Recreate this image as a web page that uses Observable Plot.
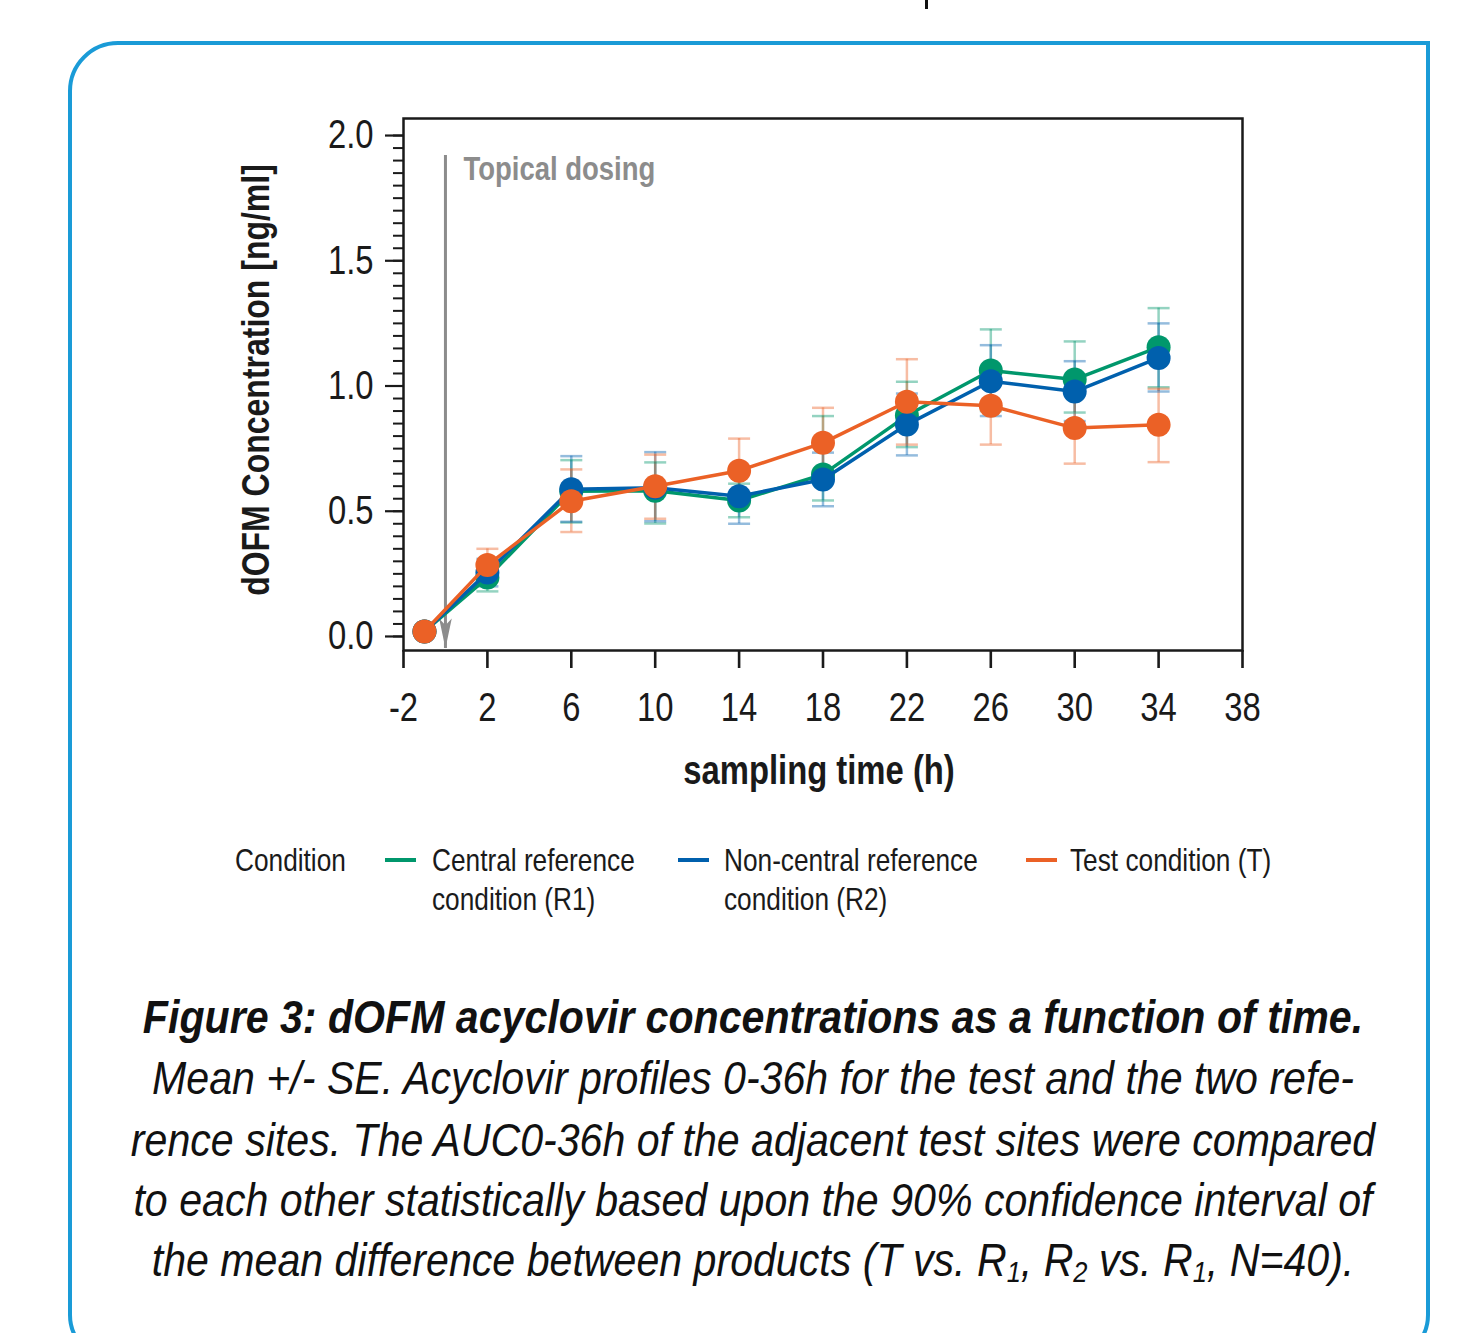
<!DOCTYPE html>
<html>
<head>
<meta charset="utf-8">
<script src="https://cdn.jsdelivr.net/npm/d3@7"></script>
<script src="https://cdn.jsdelivr.net/npm/@observablehq/plot@0.6"></script>
<style>
  html, body { margin: 0; padding: 0; background: #fff; }
  body { width: 1468px; height: 1333px; overflow: hidden; position: relative;
         font-family: "Liberation Sans", Arial, sans-serif; color: #1a1a1a; }
  #box { position: absolute; left: 68px; top: 41px; width: 1362px; height: 1320px;
         border: 4px solid #1a9bd7; border-radius: 50px 0 46px 46px; box-sizing: border-box; }
  #topmark { position: absolute; left: 925px; top: 0; width: 3px; height: 9px; background: #111; }
  #chart { position: absolute; left: 0; top: 0; }
  .ylab { position: absolute; left: 256px; top: 380px; transform: translate(-50%, -50%) rotate(-90deg) scaleX(0.82);
          font-weight: bold; font-size: 39px; white-space: nowrap; color: #1a1a1a; }
  .xlab { position: absolute; left: 819px; top: 770px; transform: translate(-50%, -50%) scaleX(0.82);
          font-weight: bold; font-size: 40px; white-space: nowrap; color: #1a1a1a; }
  .leg { position: absolute; font-size: 32px; line-height: 39px; color: #1a1a1a; white-space: nowrap;
         transform: scaleX(0.82); transform-origin: left center; }
  .sw { position: absolute; height: 4px; width: 31px; }
  .cap { position: absolute; left: -247px; width: 2000px; height: 61px; text-align: center;
         font-style: italic; font-size: 47px; line-height: 61px; color: #111; white-space: nowrap;
         transform: scaleX(0.875); transform-origin: center center; }
  .cap.b { font-weight: bold; }
  .cap sub { font-size: 0.62em; vertical-align: -0.22em; line-height: 0; }
</style>
</head>
<body>
<div id="box"></div>
<div id="topmark"></div>
<div id="chart"></div>
<div class="ylab">dOFM Concentration [ng/ml]</div>
<div class="xlab">sampling time (h)</div>
<div id="legend"></div>
<div class="cap b" style="top:986px">Figure 3: dOFM acyclovir concentrations as a function of time.</div>
<div class="cap" style="top:1047px">Mean +/- SE. Acyclovir profiles 0-36h for the test and the two refe-</div>
<div class="cap" style="top:1109px">rence sites. The AUC0-36h of the adjacent test sites were compared</div>
<div class="cap" style="top:1169px">to each other statistically based upon the 90% confidence interval of</div>
<div class="cap" style="top:1229px">the mean difference between products (T vs. R<sub>1</sub>, R<sub>2</sub> vs. R<sub>1</sub>, N=40).</div>
<script>
// ---------------- data ----------------
const times = [-1, 2, 6, 10, 14, 18, 22, 26, 30, 34];

const r1Mean = [0.02, 0.235, 0.580, 0.582, 0.543, 0.647, 0.882, 1.062, 1.026, 1.155];
const r1Lo   = [0.02, 0.180, 0.455, 0.451, 0.476, 0.543, 0.756, 0.900, 0.894, 0.995];
const r1Hi   = [0.02, 0.290, 0.704, 0.695, 0.610, 0.880, 1.017, 1.226, 1.178, 1.311];

const r2Mean = [0.02, 0.255, 0.588, 0.594, 0.560, 0.627, 0.846, 1.019, 0.978, 1.112];
const r2Lo   = [0.02, 0.200, 0.458, 0.460, 0.450, 0.520, 0.723, 0.880, 0.860, 0.978];
const r2Hi   = [0.02, 0.310, 0.720, 0.736, 0.670, 0.734, 0.970, 1.163, 1.099, 1.250];

const tMean  = [0.02, 0.285, 0.540, 0.600, 0.662, 0.773, 0.937, 0.921, 0.832, 0.845];
const tLo    = [0.02, 0.220, 0.417, 0.470, 0.535, 0.633, 0.766, 0.766, 0.690, 0.696];
const tHi    = [0.02, 0.350, 0.667, 0.726, 0.790, 0.913, 1.107, 1.070, 0.970, 0.989];

const seriesKeys   = ["R1", "R2", "T"];
const seriesLabels = ["Central reference\ncondition (R1)", "Non-central reference\ncondition (R2)", "Test condition (T)"];
const seriesColors = ["#00976c", "#0060ad", "#eb6126"];
const legendTitle  = "Condition";

const xTicks = [-2, 2, 6, 10, 14, 18, 22, 26, 30, 34, 38];
const yTicks = [0, 0.5, 1.0, 1.5, 2.0];
const yMinorStep = 0.05;

const dosing = [{t: 0, top: 1.92, tip: -0.048, label: "Topical dosing"}];

// ---------------- build rows ----------------
const seriesData = {
  R1: [r1Mean, r1Lo, r1Hi],
  R2: [r2Mean, r2Lo, r2Hi],
  T:  [tMean, tLo, tHi]
};
const rows = seriesKeys.flatMap(k => times.map((t, i) => ({
  series: k, t, mean: seriesData[k][0][i], lo: seriesData[k][1][i], hi: seriesData[k][2][i]
})));
const errRows = rows.filter(d => d.hi > d.lo);
const yMinor = d3.range(0, Math.round(2 / yMinorStep) + 1).map(i => +(i * yMinorStep).toFixed(2));

const color = Plot.scale({color: {domain: seriesKeys, range: seriesColors}});

const capSymbol = {
  draw(context, size) {
    const r = Math.sqrt(size / Math.PI);
    context.moveTo(-r, 0);
    context.lineTo(r, 0);
  }
};
const headSymbol = {
  draw(context, size) {
    const r = Math.sqrt(size / Math.PI);
    context.moveTo(0, r);
    context.lineTo(-0.42 * r, -r);
    context.lineTo(0, -0.55 * r);
    context.lineTo(0.42 * r, -r);
    context.closePath();
  }
};

const marks = [
  Plot.ruleX(errRows, {x: "t", y1: "lo", y2: "hi", stroke: d => color.apply(d.series), strokeOpacity: 0.42, strokeWidth: 2.5}),
  Plot.dot(errRows, {x: "t", y: "lo", symbol: capSymbol, r: 11, fill: "none", stroke: d => color.apply(d.series), strokeOpacity: 0.42, strokeWidth: 2.5}),
  Plot.dot(errRows, {x: "t", y: "hi", symbol: capSymbol, r: 11, fill: "none", stroke: d => color.apply(d.series), strokeOpacity: 0.42, strokeWidth: 2.5}),
  Plot.ruleX(dosing, {x: "t", y1: "top", y2: "tip", stroke: "#8c8c8c", strokeWidth: 3}),
  Plot.dot(dosing, {x: "t", y: "tip", symbol: headSymbol, r: 15, fill: "#8c8c8c", stroke: "none", dy: -15}),
  Plot.text(dosing, {x: "t", y: "top", text: "label", textAnchor: "start", dx: 18, dy: 14,
    fill: "#8c8c8c", fontWeight: "bold", fontSize: 33.5})
];
for (const k of seriesKeys) {
  const d = rows.filter(r => r.series === k);
  const c = color.apply(k);
  marks.push(Plot.line(d, {x: "t", y: "mean", stroke: c, strokeWidth: 3.5}));
  marks.push(Plot.dot(d, {x: "t", y: "mean", r: 12, fill: c, stroke: "none"}));
}
marks.push(
  Plot.frame({stroke: "#1a1a1a", strokeWidth: 2.5}),
  Plot.axisY(yMinor, {anchor: "left", tickSize: 10, tickFormat: () => "", strokeWidth: 2, stroke: "#1a1a1a", label: null}),
  Plot.axisY(yTicks, {anchor: "left", tickSize: 18, tickPadding: 12, tickFormat: d3.format(".1f"), strokeWidth: 2.2,
    stroke: "#1a1a1a", fontSize: 40, fill: "#1a1a1a", label: null}),
  Plot.axisX(xTicks, {anchor: "bottom", tickSize: 18, tickPadding: 24, tickFormat: d => String(d), strokeWidth: 2.6,
    stroke: "#1a1a1a", fontSize: 40, fill: "#1a1a1a", label: null})
);

const plot = Plot.plot({
  width: 1468,
  height: 760,
  marginLeft: 403,
  marginRight: 226,
  marginTop: 118,
  marginBottom: 110,
  style: {fontFamily: '"Liberation Sans", Arial, sans-serif', background: "transparent", overflow: "visible"},
  x: {domain: [-2, 38]},
  y: {domain: [-0.056, 2.068]},
  marks
});
document.getElementById("chart").appendChild(plot);

// condense SVG texts (narrow face substitute)
plot.querySelectorAll("text").forEach(t => {
  const L = t.getComputedTextLength();
  if (L > 0) {
    t.setAttribute("textLength", (L * 0.82).toFixed(1));
    t.setAttribute("lengthAdjust", "spacingAndGlyphs");
  }
});

// ---------------- legend ----------------
const leg = document.getElementById("legend");
const legTitle = document.createElement("div");
legTitle.className = "leg";
legTitle.style.left = "235px"; legTitle.style.top = "841px";
legTitle.textContent = legendTitle;
leg.appendChild(legTitle);
const legPos = [[385, 432], [678, 724], [1026, 1070]];
seriesKeys.forEach((k, i) => {
  const sw = document.createElement("div");
  sw.className = "sw";
  sw.style.left = legPos[i][0] + "px"; sw.style.top = "858px";
  sw.style.background = seriesColors[i];
  leg.appendChild(sw);
  const tx = document.createElement("div");
  tx.className = "leg";
  tx.style.left = legPos[i][1] + "px"; tx.style.top = "841px";
  tx.innerHTML = seriesLabels[i].split("\n").join("<br>");
  leg.appendChild(tx);
});
</script>
</body>
</html>
